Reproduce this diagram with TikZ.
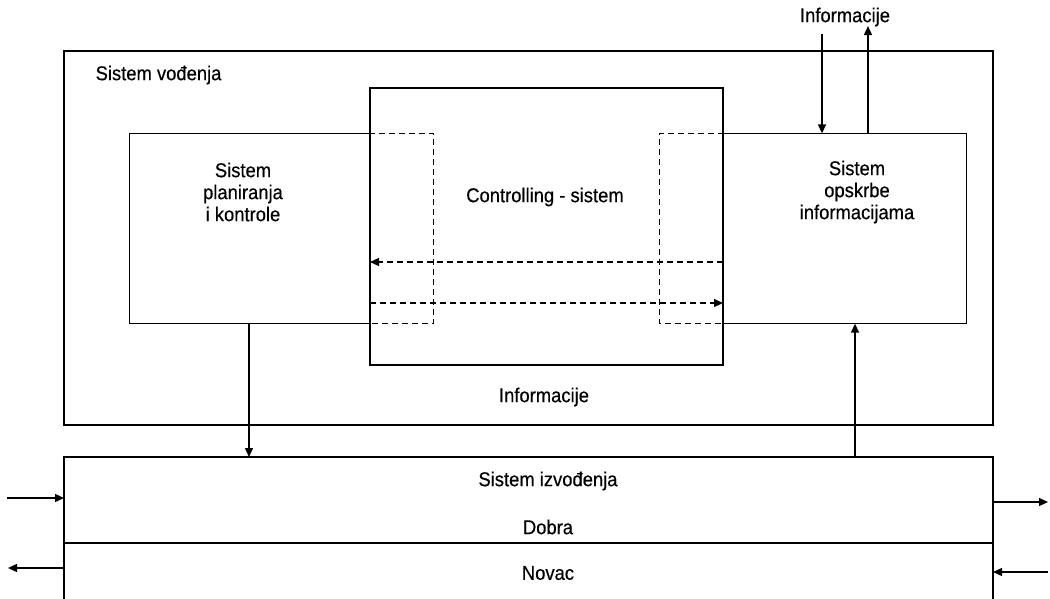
\documentclass[tikz,border=0pt]{standalone}
\usepackage{fontspec}
\setmainfont{Liberation Sans}[FakeStretch=0.92,FakeBold=0.4]
\usetikzlibrary{arrows.meta}
\begin{document}
\begin{tikzpicture}[x=1pt,y=-1pt,
  line width=1.3pt,
  box/.style={draw,rectangle,inner sep=0pt},
  ghost/.style={rectangle,inner sep=0pt,draw=none},
  lbl/.style={font=\fontsize{20}{22}\selectfont,align=center,inner sep=0pt},
  flow/.style={-{Triangle[length=9pt,width=8pt]}},
  dflow/.style={flow,dash pattern=on 6pt off 4pt},
  dash box/.style={dash pattern=on 6pt off 4pt}]
\useasboundingbox (0,0) rectangle (1050,598);

% management system frame
\node[box,minimum width=929pt,minimum height=374pt] (lead) at (528.5,238) {};
\node[lbl,anchor=west] (leadtxt) at (95,75) {Sistem vođenja};

% controlling system
\node[box,fill=white,minimum width=353pt,minimum height=277pt] (ctrl) at (546.5,226.5) {};
\node[lbl] (ctrltxt) at (545,197) {Controlling - sistem};

% planning and control system (overlapping ctrl, dashed inside)
\node[ghost,minimum width=303pt,minimum height=189pt] (plan) at (281.5,228.5) {};
\draw (ctrl.west |- plan.north) -- (plan.north west) -- (plan.south west) -- (ctrl.west |- plan.south);
\draw[dash box] (ctrl.west |- plan.north) -- (plan.north east) -- (plan.south east) -- (ctrl.west |- plan.south);
\node[lbl] (plantxt) at (243,192) {Sistem\\planiranja\\i kontrole};

% information supply system (overlapping ctrl, dashed inside)
\node[ghost,minimum width=306pt,minimum height=189pt] (info) at (813,228.5) {};
\draw (ctrl.east |- info.north) -- (info.north east) -- (info.south east) -- (ctrl.east |- info.south);
\draw[dash box] (ctrl.east |- info.north) -- (info.north west) -- (info.south west) -- (ctrl.east |- info.south);
\node[lbl] (infotxt) at (857,192) {Sistem\\opskrbe\\informacijama};

% dashed information flows through the controlling system
\coordinate (fa) at (723,262);
\coordinate (fb) at (370,262);
\coordinate (fc) at (370,303);
\coordinate (fd) at (723,303);
\draw[dflow] (fa) -- (fb);
\draw[dflow] (fc) -- (fd);

\node[lbl] (mid) at (544,397) {Informacije};

% external information
\node[lbl] (ext) at (845,17) {Informacije};
\coordinate (extin) at (822,34);
\coordinate (extout) at (868,26);
\draw[flow] (extin) -- (extin |- info.north);
\draw[flow] (extout |- info.north) -- (extout);

% execution system
\coordinate (exNW) at (64,457);
\coordinate (exNE) at (993,457);
\coordinate (exSW) at (64,600);
\coordinate (exSE) at (993,600);
\draw (exSW) -- (exNW) -- (exNE) -- (exSE);
\coordinate (divL) at (64,543);
\coordinate (divR) at (993,543);
\draw (divL) -- (divR);
\node[lbl] (exectxt) at (548,481) {Sistem izvođenja};
\node[lbl] (goods) at (548,527) {Dobra};
\node[lbl] (money) at (548,573) {Novac};

% vertical links
\coordinate (downx) at (249,0);
\coordinate (upx) at (855,0);
\draw[flow] (downx |- plan.south) -- (downx |- exNW);
\draw[flow] (upx |- exNW) -- (upx |- info.south);

% side flows
\coordinate (l1) at (7,498);
\coordinate (l2) at (8,568);
\coordinate (r1) at (1048,502);
\coordinate (r2) at (1048,572);
\draw[flow] (l1) -- (l1 -| exNW);
\draw[flow] (l2 -| exNW) -- (l2);
\draw[flow] (r1 -| exNE) -- (r1);
\draw[flow] (r2) -- (r2 -| exNE);
\end{tikzpicture}
\end{document}
